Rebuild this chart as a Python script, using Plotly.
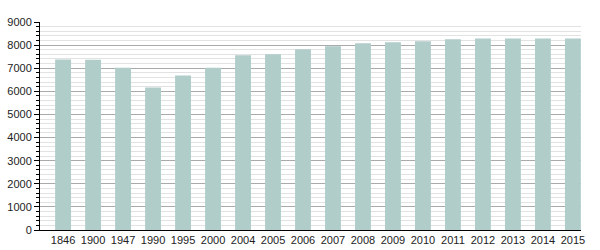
import plotly.graph_objects as go

years = ["1846", "1900", "1947", "1990", "1995", "2000", "2004", "2005", "2006",
         "2007", "2008", "2009", "2010", "2011", "2012", "2013", "2014", "2015"]
population = [7380, 7370, 7020, 6170, 6690, 7020, 7560, 7600, 7820,
              7950, 8080, 8120, 8170, 8250, 8290, 8290, 8290, 8290]

fig = go.Figure(go.Bar(x=years, y=population, marker_color="#b0cdca",
                       marker_line_width=0, width=0.53))

fig.update_layout(
    width=600, height=250,
    margin=dict(l=40, r=19, t=22, b=20),
    plot_bgcolor="white", paper_bgcolor="white",
    showlegend=False,
    font=dict(family="Liberation Sans, Arial, sans-serif", size=11, color="#222"),
)
fig.update_xaxes(type="category", range=[-0.77, 17.27], showline=True,
                 linecolor="black", linewidth=1, ticks="", showgrid=False,
                 tickfont=dict(size=11), automargin=False)
fig.update_yaxes(range=[0, 9000], dtick=1000, showline=True, linecolor="black",
                 linewidth=1, ticks="outside", ticklen=5, tickcolor="black",
                 gridcolor="#aaaaaa", gridwidth=1, zeroline=False,
                 minor=dict(dtick=200, showgrid=True, gridcolor="#e2e2e2",
                            ticks="outside", ticklen=3, tickcolor="black"),
                 tickfont=dict(size=11), automargin=False)

fig.write_html("out.html")
